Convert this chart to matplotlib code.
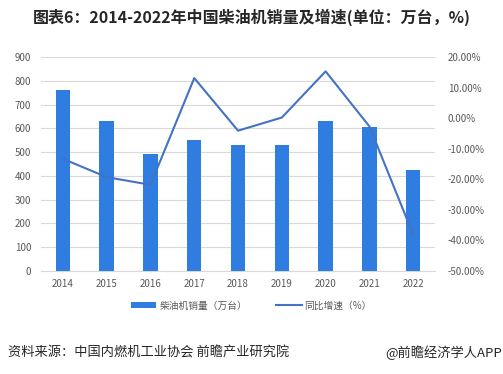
import numpy as np
import matplotlib
matplotlib.use("Agg")
import matplotlib.pyplot as plt
from matplotlib.ticker import FuncFormatter

plt.rcParams["font.family"] = ["Noto Sans CJK SC", "DejaVu Sans"]

years = ["2014", "2015", "2016", "2017", "2018", "2019", "2020", "2021", "2022"]
sales = [761, 631, 493, 551, 530, 530, 631, 605, 425]
growth = [-13.3, -19.3, -21.8, 13.1, -4.1, 0.2, 15.3, -2.7, -38.1]

bar_color = "#2F7DE1"
line_color = "#4472C4"
tick_color = "#595959"

fig = plt.figure(figsize=(5.03, 3.74), dpi=100)
ax = fig.add_axes([0.0815, 0.2754, 0.7835, 0.5722])
x = np.arange(len(years))

bars = ax.bar(x, sales, width=0.33, color=bar_color, zorder=3, label="柴油机销量（万台）")
ax.set_ylim(0, 900)
ax.set_yticks(range(0, 901, 100))
ax.set_xlim(-0.5, len(years) - 0.5)
ax.set_xticks(x)
ax.set_xticklabels(years)
ax.grid(axis="y", color="#D9D9D9", linewidth=0.8, zorder=0)
for s in ["top", "right", "left"]:
    ax.spines[s].set_visible(False)
ax.spines["bottom"].set_color("#D9D9D9")
ax.tick_params(axis="both", length=0, labelsize=7, colors=tick_color)
ax.tick_params(axis="x", pad=6)
ax.tick_params(axis="y", pad=7)

ax2 = ax.twinx()
line, = ax2.plot(x, growth, color=line_color, linewidth=1.5, zorder=4, label="同比增速（%）")
ax2.set_ylim(-50, 20)
ax2.set_yticks(range(-50, 21, 10))
ax2.yaxis.set_major_formatter(FuncFormatter(lambda v, p: f"{v:.2f}%"))
for s in ["top", "right", "left", "bottom"]:
    ax2.spines[s].set_visible(False)
ax2.tick_params(axis="y", length=0, labelsize=7, colors=tick_color, pad=9)

fig.legend([bars, line], ["柴油机销量（万台）", "同比增速（%）"],
           loc="center", bbox_to_anchor=(0.5, 0.183), ncol=2, frameon=False,
           fontsize=7, labelcolor=tick_color, handlelength=2.6,
           handleheight=0.5, columnspacing=3.0, handletextpad=0.3)

fig.text(0.5, 0.955, "图表6：2014-2022年中国柴油机销量及增速(单位：万台，%)",
         ha="center", va="center", fontsize=11.5, fontweight="bold", color="#262626")
fig.text(0.016, 0.057, "资料来源：中国内燃机工业协会 前瞻产业研究院",
         ha="left", va="center", fontsize=9.5, color="#262626")
fig.text(0.998, 0.057, "@前瞻经济学人APP",
         ha="right", va="center", fontsize=9.5, color="#262626")

fig.savefig("out.png", dpi=100)
